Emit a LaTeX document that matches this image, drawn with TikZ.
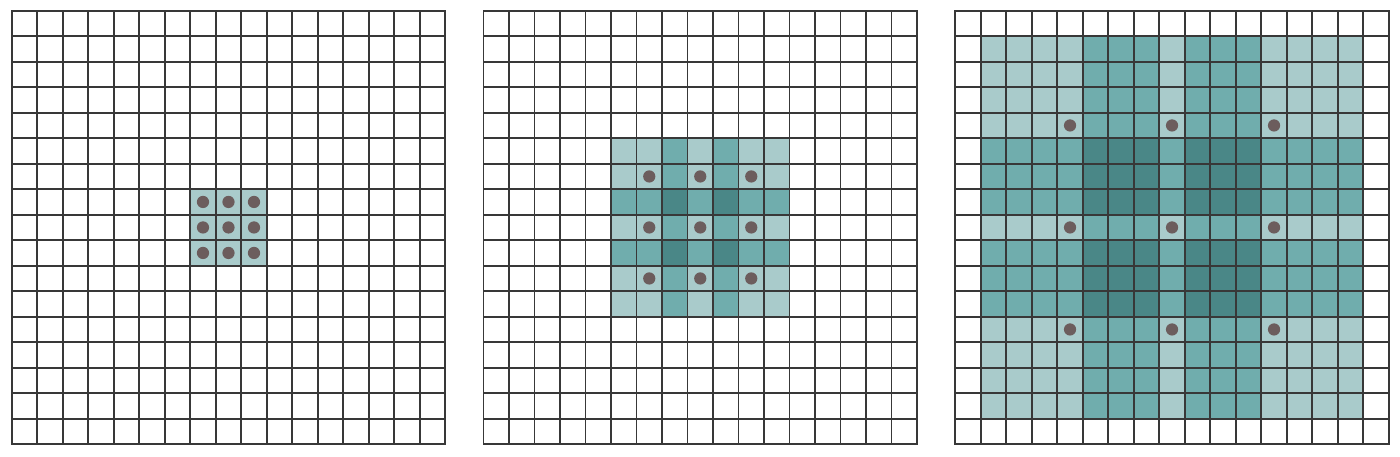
\documentclass[tikz,border=0pt]{standalone}
\definecolor{lightteal}{HTML}{A9CBCB}
\definecolor{midteal}{HTML}{70ADAD}
\definecolor{darkteal}{HTML}{4A8787}
\definecolor{gridline}{HTML}{383838}
\definecolor{dotgrey}{HTML}{6C5D5D}
\tikzset{fieldA/.style={fill=lightteal},fieldB/.style={fill=midteal},fieldC/.style={fill=darkteal},gridpen/.style={draw=gridline,line width=1pt},kdot/.style={circle,fill=dotgrey,inner sep=0pt,minimum size=2.4mm}}

\begin{document}
\begin{tikzpicture}[x=5mm,y=5mm]
\useasboundingbox (-0.46,-0.5) rectangle (54.44,17.42);
% 1-dilated: 3x3
\begin{scope}
\fill[fieldA] (7,7) rectangle (10,10);
\draw[gridpen] (0,0) grid[step=5mm] (17,17) rectangle (0,0);
\foreach \i in {0,1,2}{\foreach \j in {0,1,2}{\node[kdot] (a\i\j) at (7.5+\i,7.5+\j) {};}}
\end{scope}
% 2-dilated: 7x7
\begin{scope}[xshift=92.5mm]
\fill[fieldA] (5,5) rectangle (12,12);
\foreach \k in {7,9}{\fill[fieldB] (\k,5) rectangle (\k+1,12);\fill[fieldB] (5,\k) rectangle (12,\k+1);}
\foreach \k in {7,9}{\foreach \l in {7,9}{\fill[fieldC] (\k,\l) rectangle (\k+1,\l+1);}}
\draw[gridpen] (0,0) grid[step=5mm] (17,17) rectangle (0,0);
\foreach \i in {0,1,2}{\foreach \j in {0,1,2}{\node[kdot] (b\i\j) at (6.5+2*\i,6.5+2*\j) {};}}
\end{scope}
% 4-dilated: 15x15
\begin{scope}[xshift=185mm]
\fill[fieldA] (1,1) rectangle (16,16);
\foreach \k in {5,9}{\fill[fieldB] (\k,1) rectangle (\k+3,16);\fill[fieldB] (1,\k) rectangle (16,\k+3);}
\foreach \k in {5,9}{\foreach \l in {5,9}{\fill[fieldC] (\k,\l) rectangle (\k+3,\l+3);}}
\draw[gridpen] (0,0) grid[step=5mm] (17,17) rectangle (0,0);
\foreach \i in {0,1,2}{\foreach \j in {0,1,2}{\node[kdot] (c\i\j) at (4.5+4*\i,4.5+4*\j) {};}}
\end{scope}
\end{tikzpicture}
\end{document}
